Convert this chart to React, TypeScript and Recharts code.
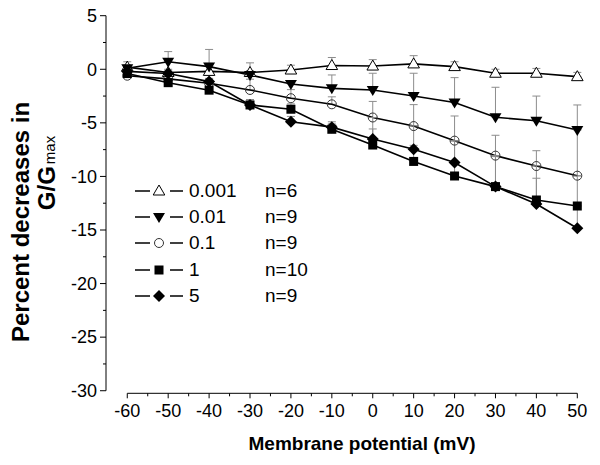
import React from 'react'
import { LineChart, Line, XAxis, YAxis, ErrorBar, ReferenceLine, Legend } from 'recharts'

const FONT = '"Liberation Sans", Arial, Helvetica, sans-serif'

// membrane potential (mV)
const potentials = [-60, -50, -40, -30, -20, -10, 0, 10, 20, 30, 40, 50]
const xTicks = [-60, -55, -50, -45, -40, -35, -30, -25, -20, -15, -10, -5, 0, 5, 10, 15, 20, 25, 30, 35, 40, 45, 50]
const yTicks = [-30, -27.5, -25, -22.5, -20, -17.5, -15, -12.5, -10, -7.5, -5, -2.5, 0, 2.5, 5]

// percent decrease per concentration, upward error
const conc0001 = [0.2, -0.3, -0.2, -0.3, -0.07, 0.35, 0.3, 0.5, 0.25, -0.37, -0.37, -0.69]
const err0001 = [0.5, 0.3, 2.05, 0.9, 0.45, 0.75, 0.6, 0.77, 0.45, 0.37, 0.45, 0.4]
const conc001 = [0.1, 0.7, 0.25, -0.53, -1.37, -1.78, -1.94, -2.5, -3.1, -4.48, -4.8, -5.67]
const err001 = [0.3, 0.95, 0.3, 0.4, 0.3, 1.25, 1.57, 2.13, 2.32, 2.8, 2.3, 2.34]
const conc01 = [-0.6, -0.9, -1.3, -1.93, -2.7, -3.27, -4.5, -5.3, -6.66, -8.06, -9.03, -9.93]
const err01 = [0.3, 0.3, 0.4, 1.0, 0.8, 0.7, 1.5, 2.0, 2.3, 1.9, 1.43, 4.3]
const conc1 = [-0.4, -1.25, -1.95, -3.33, -3.73, -5.6, -7.07, -8.6, -9.96, -10.95, -12.2, -12.76]
const err1 = [0.3, 0.3, 0.3, 0.5, 0.5, 0.5, 1.5, 1.5, 3.3, 2.9, 3.2, 2.8]
const conc5 = [-0.2, -0.4, -1.15, -3.33, -4.9, -5.4, -6.5, -7.47, -8.7, -10.95, -12.57, -14.84]
const err5 = [0.3, 0.3, 0.3, 0.5, 0.5, 0.5, 2.0, 2.2, 2.0, 2.8, 2.4, 2.1]

const seriesNames = ['0.001', '0.01', '0.1', '1', '5']
const seriesN = ['n=6', 'n=9', 'n=9', 'n=10', 'n=9']
const markers = ['triUpOpen', 'triDown', 'circleOpen', 'square', 'diamond']

const values = [conc0001, conc001, conc01, conc1, conc5]
const errors = [err0001, err001, err01, err1, err5]

const data = potentials.map((x, i) => {
  const row: Record<string, any> = { x }
  values.forEach((v, s) => {
    row[`s${s}`] = v[i]
    row[`e${s}`] = [0, errors[s][i]]
  })
  return row
})

function Marker({ shape, cx, cy }: { shape: string; cx: number; cy: number }) {
  switch (shape) {
    case 'triUpOpen':
      return <polygon points={`${cx},${cy - 6} ${cx - 5.8},${cy + 4} ${cx + 5.8},${cy + 4}`} fill="#fff" stroke="#000" strokeWidth={1} />
    case 'triDown':
      return <polygon points={`${cx - 6},${cy - 4} ${cx + 6},${cy - 4} ${cx},${cy + 6}`} fill="#000" />
    case 'circleOpen':
      return <circle cx={cx} cy={cy} r={4.5} fill="none" stroke="#333" strokeWidth={1} />
    case 'square':
      return <rect x={cx - 4.5} y={cy - 4.5} width={9} height={9} fill="#000" />
    default:
      return <polygon points={`${cx},${cy - 6} ${cx + 6},${cy} ${cx},${cy + 6} ${cx - 6},${cy}`} fill="#000" />
  }
}

const XTick = (props: any) => {
  const { x, y, payload } = props
  const major = payload.value % 10 === 0
  return (
    <g>
      <line x1={x} y1={y} x2={x} y2={y + (major ? 5 : 3)} stroke="#000" strokeWidth={1} />
      {major && (
        <text x={x} y={y + 24} textAnchor="middle" fontSize={18} fontFamily={FONT} fill="#000">
          {payload.value}
        </text>
      )}
    </g>
  )
}

const YTick = (props: any) => {
  const { x, y, payload } = props
  const major = payload.value % 5 === 0
  return (
    <g>
      <line x1={x - (major ? 6 : 3)} y1={y} x2={x} y2={y} stroke="#000" strokeWidth={1} />
      {major && (
        <text x={x - 9} y={y} dy="0.35em" textAnchor="end" fontSize={18} fontFamily={FONT} fill="#000">
          {payload.value}
        </text>
      )}
    </g>
  )
}

const renderXTitle = () => (
  <text x={362} y={450} textAnchor="middle" fontSize={19} fontWeight="bold" fontFamily={FONT} fill="#000">
    Membrane potential (mV)
  </text>
)

const renderYTitle = () => (
  <g fontFamily={FONT} fontWeight="bold" fill="#000">
    <text x={29} y={222} transform="rotate(-90, 29, 222)" textAnchor="middle" fontSize={24}>
      Percent decreases in
    </text>
    <text x={55} y={173} transform="rotate(-90, 55, 173)" textAnchor="middle" fontSize={24}>
      G/G<tspan fontSize={15} fontWeight="normal" dx={2}>max</tspan>
    </text>
  </g>
)

const renderLegend = () => (
  <div style={{ fontFamily: FONT, fontSize: 19, color: '#000' }}>
    {seriesNames.map((name, i) => (
      <div key={name} style={{ display: 'flex', alignItems: 'center', height: 26.3 }}>
        <svg width={48} height={20}>
          <line x1={0} y1={10} x2={15} y2={10} stroke="#000" strokeWidth={1.5} />
          <line x1={35} y1={10} x2={48} y2={10} stroke="#000" strokeWidth={1.5} />
          <Marker shape={markers[i]} cx={24} cy={10} />
        </svg>
        <span style={{ marginLeft: 6, width: 76 }}>{name}</span>
        <span>{seriesN[i]}</span>
      </div>
    ))}
  </div>
)

export default function App() {
  return (
    <div style={{ width: 600, height: 465, margin: '-8px 0 0 -8px' }}>
      <LineChart width={600} height={465} data={data} margin={{ top: 15.7, right: 22.7, bottom: 0, left: 0 }}>
        <XAxis
          dataKey="x"
          type="number"
          domain={[-65.2, 50]}
          ticks={xTicks}
          interval={0}
          axisLine={false}
          tickLine={false}
          tickSize={0}
          tickMargin={0}
          tick={<XTick />}
          height={71.7}
          label={renderXTitle}
        />
        <YAxis
          type="number"
          domain={[-30.24, 5]}
          ticks={yTicks}
          interval={0}
          axisLine={false}
          tickLine={false}
          tickSize={0}
          tickMargin={0}
          tick={<YTick />}
          width={106}
          label={renderYTitle}
        />
        <ReferenceLine segment={[{ x: -60, y: -30.24 }, { x: 50, y: -30.24 }]} stroke="#000" strokeWidth={1} ifOverflow="visible" />
        <ReferenceLine segment={[{ x: -65.2, y: -30 }, { x: -65.2, y: 5 }]} stroke="#000" strokeWidth={1} ifOverflow="visible" />
        <Legend
          layout="vertical"
          align="center"
          verticalAlign="middle"
          content={renderLegend}
          wrapperStyle={{ left: 135, top: 177.5, width: 'auto', height: 'auto' }}
        />
        {seriesNames.map((name, s) => (
          <Line
            key={name}
            dataKey={`s${s}`}
            name={name}
            stroke="#000"
            strokeWidth={1.6}
            isAnimationActive={false}
            activeDot={false}
            dot={(p: any) => <Marker key={`${name}-${p.index}`} shape={markers[s]} cx={p.cx} cy={p.cy} />}
          >
            <ErrorBar dataKey={`e${s}`} direction="y" width={4} stroke="#8c8c8c" strokeWidth={1} isAnimationActive={false} />
          </Line>
        ))}
      </LineChart>
    </div>
  )
}
